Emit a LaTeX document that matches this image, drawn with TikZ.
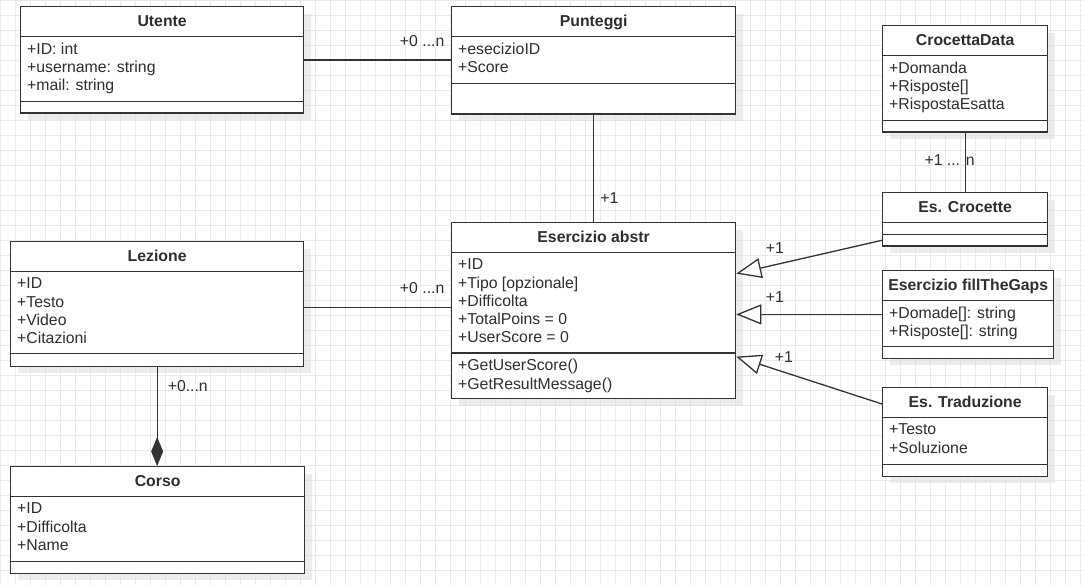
\documentclass[tikz,border=0pt]{standalone}
\usepackage{fontspec}
\setmainfont{Liberation Sans}
\usetikzlibrary{arrows.meta,shadows}
\definecolor{linecol}{HTML}{333333}
\definecolor{textcol}{HTML}{2E2E2E}
\definecolor{gridcol}{HTML}{EAEAEA}

\newcommand{\umlclass}[9]{%
        \node[classbox, minimum width=#4pt, minimum height={(30.5+#5+#6)*1pt}] (#1) at (#2,#3) {};
        \node[classtitle] (#1-title) at ([yshift=-20.7pt]#1.north) {#7};
        \draw[classline] ([yshift=-30.5pt]#1.north west) -- ([yshift=-30.5pt]#1.north east);
        \draw[classline] ([yshift={-(30.5+#5)*1pt}]#1.north west) -- ([yshift={-(30.5+#5)*1pt}]#1.north east);
        \node[classtext] (#1-attr) at ([xshift=7pt,yshift=-36.7pt]#1.north west) {#8};
        \node[classtext] (#1-meth) at ([xshift=7pt,yshift={-(36.7+#5)*1pt}]#1.north west) {#9};
}

\begin{document}
\begin{tikzpicture}[x=1pt, y=-1pt,
        classbox/.style={draw=linecol, line width=1.3pt, fill=white, anchor=north west, inner sep=0pt,
                drop shadow={shadow xshift=7pt, shadow yshift=-7pt, fill=black!14, opacity=.5}},
        classline/.style={draw=linecol, line width=1.3pt},
        classtitle/.style={anchor=base, inner sep=0pt, text=textcol, font=\fontsize{15.8}{18.3}\selectfont\bfseries},
        classtext/.style={anchor=north west, align=left, inner sep=0pt, text=textcol,
                font=\fontsize{15.8}{18.3}\selectfont, execute at begin node=\strut},
        mult/.style={inner sep=0pt, text=textcol, font=\fontsize{15.8}{18.3}\selectfont},
        assoc/.style={draw=linecol, line width=1.3pt},
        inherit/.style={draw=linecol, line width=1.3pt, -{Triangle[length=25pt, width=20pt, fill=white]}}]
        \useasboundingbox (0,0) rectangle (1084,585);
        \fill[white] (0,0) rectangle (1084,585);
        \draw[gridcol, line width=0.8pt, step=15pt] (0,0) grid (1084,585);

        \umlclass{utente}{20}{6}{283}{65}{11}{Utente}{+ID: int\\+username: string\\+mail: string}{}
        \umlclass{punteggi}{451}{6}{284}{47}{30}{Punteggi}{+esecizioID\\+Score}{}
        \umlclass{crocdata}{882}{25}{165}{65}{11}{CrocettaData}{+Domanda\\+Risposte[]\\+RispostaEsatta}{}
        \umlclass{crocette}{882}{192}{165}{12}{11}{Es. Crocette}{}{}
        \umlclass{esercizio}{451}{222}{284}{100.5}{45}{Esercizio abstr}{+ID\\+Tipo [opzionale]\\+Difficolta\\+TotalPoins = 0\\+UserScore = 0}{+GetUserScore()\\+GetResultMessage()}
        \umlclass{fillgaps}{882}{270}{171}{46}{11}{Esercizio fillTheGaps}{+Domade[]: string\\+Risposte[]: string}{}
        \umlclass{traduzione}{882}{387}{165}{47}{11}{Es. Traduzione}{+Testo\\+Soluzione}{}
        \umlclass{lezione}{10}{241}{293}{82}{12}{Lezione}{+ID\\+Testo\\+Video\\+Citazioni}{}
        \umlclass{corso}{10}{466}{294}{65}{11}{Corso}{+ID\\+Difficolta\\+Name}{}

        \coordinate (lzout) at ([yshift=-3.5pt]lezione.east);
        \coordinate (tip1) at ([yshift=37pt]esercizio.east);
        \coordinate (tip3) at ([yshift=-46pt]esercizio.east);

        \draw[assoc] (utente.east) to node[mult, pos=1, anchor=base east, xshift=-6pt, yshift=13pt] (m1) {+0 ...n} (utente.east -| punteggi.west);
        \draw[assoc] (punteggi.south) to node[mult, pos=1, anchor=base west, xshift=6pt, yshift=18.5pt] (m2) {+1} (esercizio.north);
        \draw[assoc] (lzout) to node[mult, pos=1, anchor=base east, xshift=-6pt, yshift=14pt] (m3) {+0 ...n} (lzout -| esercizio.west);
        \draw[assoc, -{Diamond[length=29pt, width=12pt]}] (lezione.south) to node[mult, pos=0, anchor=base west, xshift=10pt, yshift=-24.5pt] (m4) {+0...n} (lezione.south |- corso.north);
        \draw[assoc] (crocdata.south) to node[mult, pos=.5, anchor=base, xshift=-15.5pt, yshift=-3.5pt] (m5) {+1 ... n} (crocette.north);

        \draw[inherit] ([yshift=6.5pt]crocette.south west) to node[mult, pos=1, anchor=base west, xshift=29pt, yshift=20.5pt] (m6) {+1} (tip1);
        \draw[inherit] (fillgaps.west) to node[mult, pos=1, anchor=base west, xshift=29pt, yshift=12.25pt] (m7) {+1} (fillgaps.west -| esercizio.east);
        \draw[inherit] ([yshift=-17pt]traduzione.north west) to node[mult, pos=1, anchor=base west, xshift=38pt, yshift=-5.5pt] (m8) {+1} (tip3);
\end{tikzpicture}
\end{document}
